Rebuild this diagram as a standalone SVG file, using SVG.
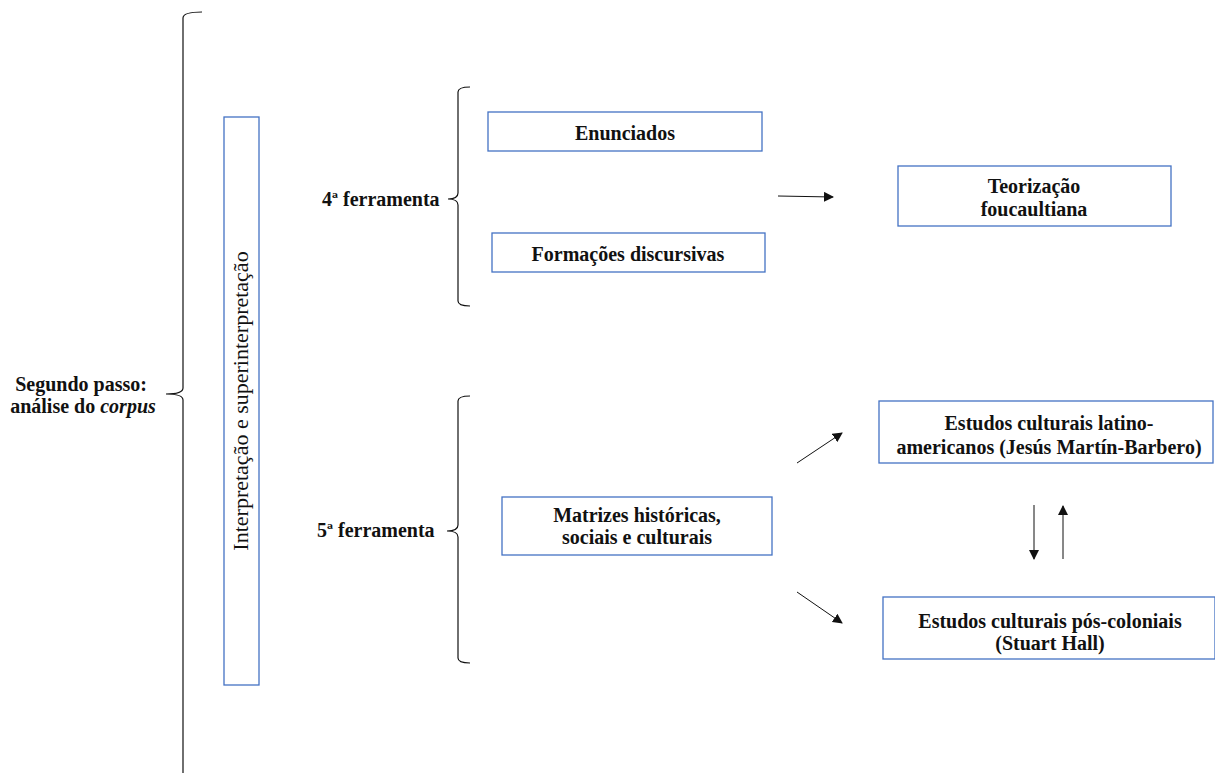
<svg xmlns="http://www.w3.org/2000/svg" width="1215" height="773" viewBox="0 0 1215 773">
<defs>
<style>
.box{fill:#fff;stroke:#4472C4;stroke-width:1.3}
.t{font-family:"Liberation Serif","Times New Roman",serif;font-weight:bold;font-size:20px;fill:#111;text-anchor:middle}
.lbl{font-family:"Liberation Serif","Times New Roman",serif;font-weight:bold;font-size:20px;fill:#111}
.br{fill:none;stroke:#111;stroke-width:1.2}
.ar{fill:none;stroke:#111;stroke-width:1}
</style>
<marker id="ah" viewBox="0 0 10 10" refX="9" refY="5" markerWidth="10" markerHeight="10" markerUnits="userSpaceOnUse" orient="auto">
<path d="M0,0 L10,5 L0,10 Z" fill="#111"/>
</marker>
</defs>
<rect width="1215" height="773" fill="#fff"/>

<g id="segundo-passo">
<path class="br" d="M202,12 Q183,12 183,18 L183,388 Q183,394 166,394 Q183,394 183,400 L183,773"/>
<text class="lbl" x="81" y="391" text-anchor="middle">Segundo passo:</text>
<text class="lbl" x="83" y="413" text-anchor="middle">análise do <tspan font-style="italic">corpus</tspan></text>
</g>

<g id="interpretacao">
<rect class="box" x="224" y="117" width="35" height="568"/>
<text transform="translate(248,401) rotate(-90)" font-family="'Liberation Serif','Times New Roman',serif" font-size="22" fill="#111" text-anchor="middle">Interpretação e superinterpretação</text>
</g>

<g id="ferramenta4">
<path class="br" d="M470,87 Q458,87 458,92 L458,193 Q458,199 448,199 Q458,199 458,205 L458,301 Q458,306 470,306"/>
<text class="lbl" x="322" y="206" font-size="18.5">4ª ferramenta</text>
</g>

<g id="enunciados">
<rect class="box" x="488" y="112" width="274" height="39"/>
<text class="t" x="625" y="140">Enunciados</text>
</g>

<g id="formacoes">
<rect class="box" x="492" y="233" width="273" height="39"/>
<text class="t" x="628" y="261">Formações discursivas</text>
</g>

<g id="teorizacao">
<rect class="box" x="898" y="166" width="273" height="60"/>
<text class="t" x="1034" y="193">Teorização</text>
<text class="t" x="1034" y="216">foucaultiana</text>
</g>

<g id="ferramenta5">
<path class="br" d="M470,396 Q458,396 458,401 L458,525 Q458,531 447,531 Q458,531 458,537 L458,658 Q458,663 470,663"/>
<text class="lbl" x="317" y="537">5ª ferramenta</text>
</g>

<g id="matrizes">
<rect class="box" x="502" y="497" width="270" height="58"/>
<text class="t" x="637" y="522">Matrizes históricas,</text>
<text class="t" x="637" y="544">sociais e culturais</text>
</g>

<g id="latino">
<rect class="box" x="879" y="401" width="334" height="62"/>
<text class="t" x="1049" y="430">Estudos culturais latino-</text>
<text class="t" x="1049" y="454">americanos (Jesús Martín-Barbero)</text>
</g>

<g id="poscoloniais">
<rect class="box" x="883" y="597" width="332" height="62"/>
<text class="t" x="1050" y="628">Estudos culturais pós-coloniais</text>
<text class="t" x="1050" y="650">(Stuart Hall)</text>
</g>

<g id="connectors">
<line class="ar" x1="778" y1="196" x2="833" y2="197" marker-end="url(#ah)"/>
<line class="ar" x1="797" y1="463" x2="842" y2="433" marker-end="url(#ah)"/>
<line class="ar" x1="797" y1="592" x2="842" y2="623" marker-end="url(#ah)"/>
<line class="ar" x1="1034" y1="505" x2="1034" y2="559" marker-end="url(#ah)"/>
<line class="ar" x1="1063" y1="559" x2="1063" y2="506" marker-end="url(#ah)"/>
</g>
</svg>
